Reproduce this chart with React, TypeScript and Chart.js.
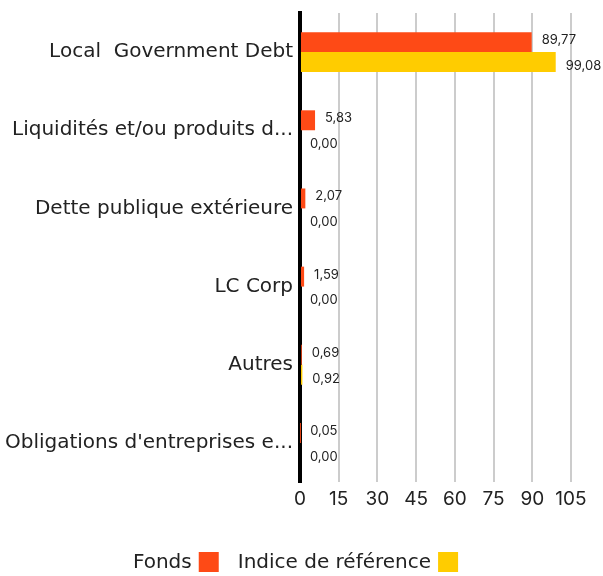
import React, { useEffect, useRef } from "react";
import { Chart, registerables } from "chart.js";

Chart.register(...registerables);

const categories = [
  "Local  Government Debt",
  "Liquidités et/ou produits d...",
  "Dette publique extérieure",
  "LC Corp",
  "Autres",
  "Obligations d'entreprises e...",
];
const fondsValues = [89.77, 5.83, 2.07, 1.59, 0.69, 0.05];
const indiceValues = [99.08, 0.0, 0.0, 0.0, 0.92, 0.0];
const seriesNames = ["Fonds", "Indice de référence"];
const seriesColors = ["#fe4a16", "#ffcc00"];
const xTicks = [0, 15, 30, 45, 60, 75, 90, 105];

const FONT = "'DejaVu Sans', sans-serif";
const SMALL_FONT = "Inter, 'Noto Sans', sans-serif";

const valueLabels = {
  id: "valueLabels",
  afterDatasetsDraw(chart: any) {
    const ctx = chart.ctx;
    ctx.save();
    ctx.font = `13px ${SMALL_FONT}`;
    ctx.fillStyle = "#222";
    ctx.textBaseline = "middle";
    ctx.textAlign = "left";
    chart.data.datasets.forEach((ds: any, di: number) => {
      const meta = chart.getDatasetMeta(di);
      meta.data.forEach((el: any, i: number) => {
        const v = ds.data[i] as number;
        const txt = v.toFixed(2).replace(".", ",");
        ctx.fillText(txt, el.x + 10, el.y + (di === 0 ? -2 : 4));
      });
    });
    ctx.restore();
  },
};

const bottomLegend = {
  id: "bottomLegend",
  afterDraw(chart: any) {
    const ctx = chart.ctx;
    ctx.save();
    ctx.font = `20px ${FONT}`;
    ctx.fillStyle = "#222";
    ctx.textBaseline = "middle";
    ctx.textAlign = "left";
    const y = 563;
    const box = 20;
    const gapTextBox = 7;
    const gapItems = 19;
    const widths = seriesNames.map((n) => ctx.measureText(n).width + gapTextBox + box);
    const total = widths.reduce((a, b) => a + b, 0) + gapItems * (seriesNames.length - 1);
    let x = (chart.width - total) / 2 - 6;
    seriesNames.forEach((n, i) => {
      const tw = ctx.measureText(n).width;
      ctx.fillStyle = "#222";
      ctx.fillText(n, x, y);
      ctx.fillStyle = seriesColors[i];
      ctx.fillRect(x + tw + gapTextBox, y - box / 2 - 1, box, box);
      x += widths[i] + gapItems;
    });
    ctx.restore();
  },
};

export default function App() {
  const ref = useRef<HTMLCanvasElement>(null);
  useEffect(() => {
    if (!ref.current) return;
    const chart = new Chart(ref.current, {
      type: "bar",
      data: {
        labels: categories,
        datasets: [
          {
            label: seriesNames[0],
            data: fondsValues,
            backgroundColor: seriesColors[0],
            categoryPercentage: 0.51,
            barPercentage: 1,
          },
          {
            label: seriesNames[1],
            data: indiceValues,
            backgroundColor: seriesColors[1],
            categoryPercentage: 0.51,
            barPercentage: 1,
          },
        ],
      },
      options: {
        indexAxis: "y",
        animation: false,
        responsive: false,
        maintainAspectRatio: false,
        layout: { padding: { top: 13, right: 32, bottom: 64, left: 0 } },
        plugins: {
          legend: { display: false },
          tooltip: { enabled: false },
        },
        scales: {
          x: {
            min: 0,
            max: 105,
            afterBuildTicks: (s: any) => {
              s.ticks = xTicks.map((v) => ({ value: v }));
            },
            afterFit: (s: any) => {
              s.height = 30;
            },
            grid: {
              color: "#cccccc",
              lineWidth: 2,
              drawTicks: false,
            },
            border: { display: false },
            ticks: {
              color: "#222",
              font: { size: 19, family: SMALL_FONT },
              padding: 6,
              maxRotation: 0,
              autoSkip: false,
            },
          },
          y: {
            afterFit: (s: any) => {
              s.width = 300;
              s.paddingTop = 0;
              s.paddingBottom = 0;
            },
            grid: { display: false, drawTicks: false },
            border: { display: true, color: "#000", width: 4 },
            ticks: {
              color: "#222",
              font: { size: 20, family: FONT },
              padding: 7,
              autoSkip: false,
            },
          },
        },
      },
      plugins: [valueLabels, bottomLegend],
    });
    return () => chart.destroy();
  }, []);
  return (
    <div style={{ position: "absolute", left: 0, top: 0, width: 603, height: 576 }}>
      <canvas ref={ref} width={603} height={576} />
    </div>
  );
}
